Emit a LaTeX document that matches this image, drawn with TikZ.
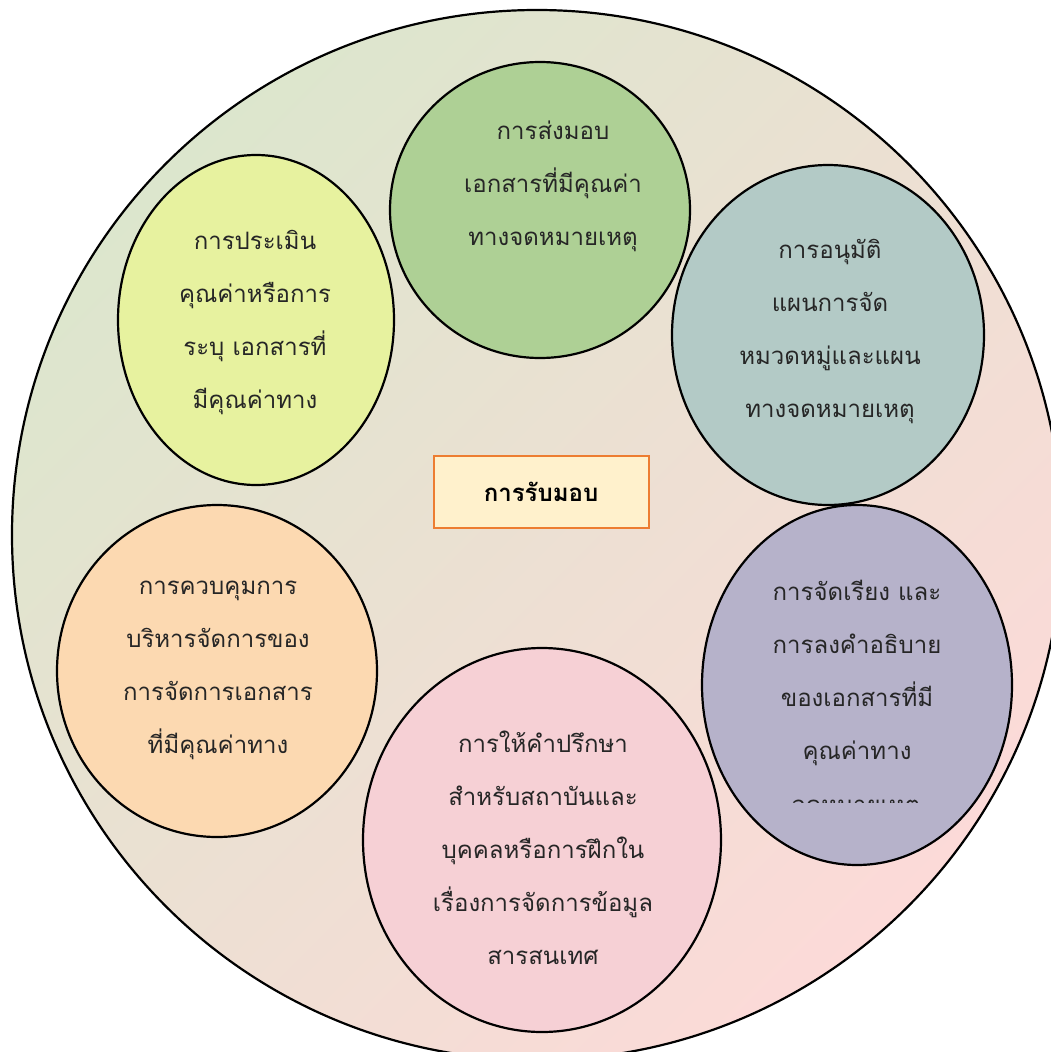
\documentclass[tikz,border=0pt]{standalone}
\usepackage{fontspec}
\newfontfamily\thai[Script=Thai]{Loma}
\usetikzlibrary{shapes.geometric}
\definecolor{bigA}{HTML}{DCE6CD}
\definecolor{bigB}{HTML}{FCDAD8}
\definecolor{cGreen}{HTML}{AED095}
\definecolor{cYellow}{HTML}{E7F29F}
\definecolor{cTeal}{HTML}{B3CAC6}
\definecolor{cOrange}{HTML}{FCD9B1}
\definecolor{cPurple}{HTML}{B6B2CA}
\definecolor{cPink}{HTML}{F6D0D5}
\definecolor{boxFill}{HTML}{FFF1CC}
\definecolor{boxLine}{HTML}{ED7D31}
\tikzset{
  bubble/.style={ellipse, draw=black, line width=2.2pt, inner sep=0pt},
  btext/.style={align=center, font=\thai\fontsize{24}{53}\selectfont, text=black!85},
}
\begin{document}
\begin{tikzpicture}[x=1pt,y=-1pt]
\useasboundingbox (0,0) rectangle (1051,1052);
\begin{scope}
\clip (0,0) rectangle (1051,1052);
\node[circle, draw=black, line width=2.2pt, minimum size=1050pt, inner sep=0pt,
  shading=axis, top color=bigA, bottom color=bigB, shading angle=45] (outer) at (537,535) {};
\end{scope}
\node[bubble, fill=cGreen, minimum width=300pt, minimum height=296pt] (e1) at (540,210) {};
\node[bubble, fill=cYellow, minimum width=276pt, minimum height=330pt] (e2) at (256,320) {};
\node[bubble, fill=cTeal, minimum width=312pt, minimum height=340pt] (e3) at (828,335) {};
\node[bubble, fill=cOrange, minimum width=320pt, minimum height=332pt] (e4) at (217,671) {};
\node[bubble, fill=cPurple, minimum width=310pt, minimum height=360pt] (e5) at (857,685) {};
\node[bubble, fill=cPink, minimum width=358pt, minimum height=384pt] (e6) at (542,840) {};

\node[btext] (t1) at (553,186) {การส่งมอบ\\เอกสารที่มีคุณค่า\\ทางจดหมายเหตุ};
\node[btext] (t2) at (255,322) {การประเมิน\\คุณค่าหรือการ\\ระบุ เอกสารที่\\มีคุณค่าทาง};
\node[btext] (t3) at (830,331) {การอนุมัติ\\แผนการจัด\\หมวดหมู่และแผน\\ทางจดหมายเหตุ};
\node[btext] (t4) at (218,670) {การควบคุมการ\\บริหารจัดการของ\\การจัดการเอกสาร\\ที่มีคุณค่าทาง};
\node[btext] (t5) at (857,673) {การจัดเรียง และ\\การลงคำอธิบาย\\ของเอกสารที่มี\\คุณค่าทาง};
\node[btext] (t6) at (543,848) {การให้คำปรึกษา\\สำหรับสถาบันและ\\บุคคลหรือการฝึกใน\\เรื่องการจัดการข้อมูล\\สารสนเทศ};

\begin{scope}
\clip (780,799.5) rectangle (940,802);
\node[btext, anchor=base] (t5cut) at (856,813) {จดหมายเหตุ};
\end{scope}

\node[draw=boxLine, fill=boxFill, line width=2pt, minimum width=215pt, minimum height=72pt,
  font=\thai\bfseries\fontsize{24}{28}\selectfont] (center) at (541,492) {การรับมอบ};
\end{tikzpicture}
\end{document}
